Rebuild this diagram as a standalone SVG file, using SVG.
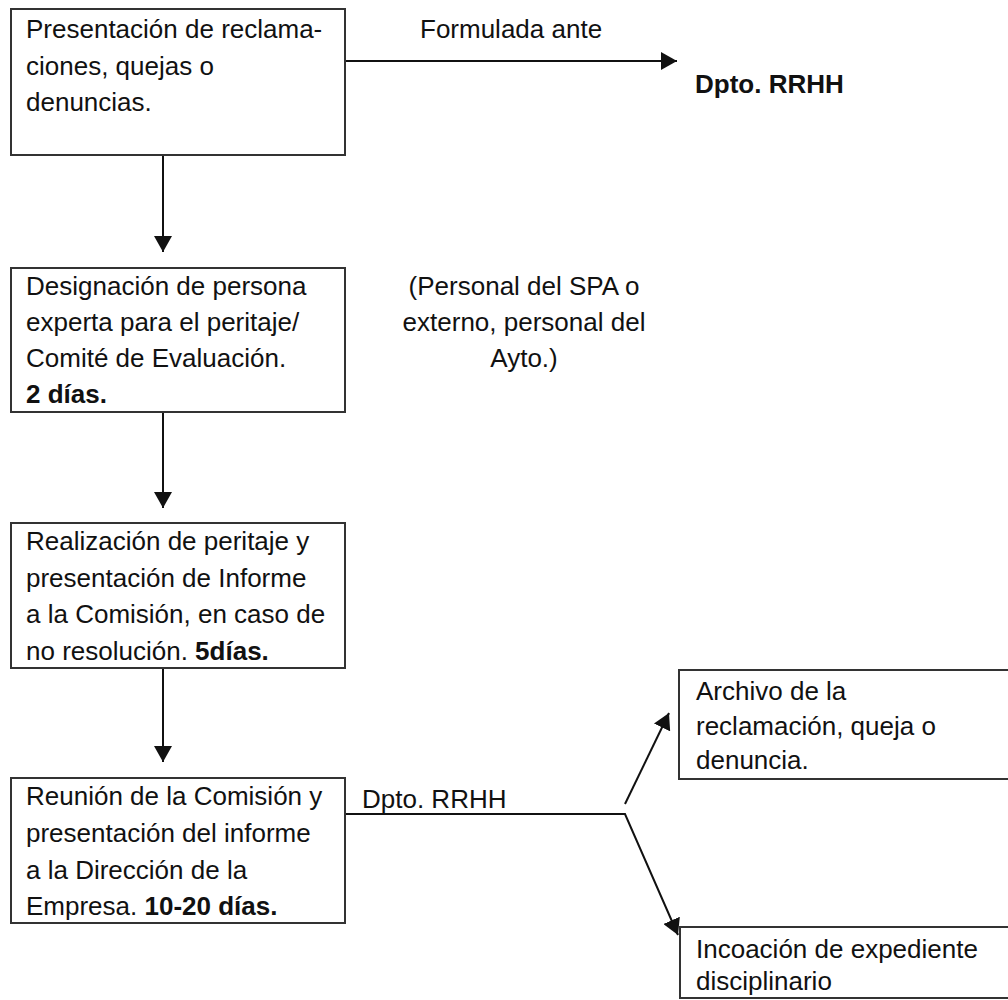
<svg xmlns="http://www.w3.org/2000/svg" width="1008" height="1000" viewBox="0 0 1008 1000">
<defs>
<style>
.box{fill:#fff;stroke:#333;stroke-width:2}
.t{font-family:"Liberation Sans",Arial,sans-serif;font-size:26px;fill:#111}
.b{font-weight:bold}
.c{fill:none;stroke:#111;stroke-width:2}
</style>
<marker id="ah" viewBox="0 0 16 18" refX="16" refY="9" markerWidth="16" markerHeight="18" markerUnits="userSpaceOnUse" orient="auto">
<path d="M0,0 L16,9 L0,18 Z" fill="#111"/>
</marker>
</defs>
<rect width="1008" height="1000" fill="#fff"/>
<g id="connectors">
<line class="c" x1="345" y1="61" x2="677" y2="61" marker-end="url(#ah)"/>
<line class="c" x1="163" y1="155" x2="163" y2="252" marker-end="url(#ah)"/>
<line class="c" x1="163" y1="412" x2="163" y2="508" marker-end="url(#ah)"/>
<line class="c" x1="163" y1="668" x2="163" y2="762" marker-end="url(#ah)"/>
<polyline class="c" points="345,814 625,814 678,935" marker-end="url(#ah)"/>
<line class="c" x1="625" y1="804" x2="669" y2="713" marker-end="url(#ah)"/>
<text class="t" x="420" y="38">Formulada ante</text>
<text class="t" x="362" y="808">Dpto. RRHH</text>
</g>
<g id="n1">
<rect class="box" x="11" y="9" width="334" height="146"/>
<text class="t" x="26" y="38">Presentación de reclama-</text>
<text class="t" x="26" y="75">ciones, quejas o</text>
<text class="t" x="26" y="111">denuncias.</text>
</g>
<g id="n-rrhh">
<text class="t b" x="695" y="93">Dpto. RRHH</text>
</g>
<g id="n2">
<rect class="box" x="11" y="268" width="334" height="144"/>
<text class="t" x="26" y="295">Designación de persona</text>
<text class="t" x="26" y="331">experta para el peritaje/</text>
<text class="t" x="26" y="367">Comité de Evaluación.</text>
<text class="t b" x="26" y="403">2 días.</text>
</g>
<g id="n-note">
<text class="t" x="524" y="295" text-anchor="middle">(Personal del SPA o</text>
<text class="t" x="524" y="331" text-anchor="middle">externo, personal del</text>
<text class="t" x="524" y="367" text-anchor="middle">Ayto.)</text>
</g>
<g id="n3">
<rect class="box" x="11" y="523" width="334" height="145"/>
<text class="t" x="26" y="550">Realización de peritaje y</text>
<text class="t" x="26" y="587">presentación de Informe</text>
<text class="t" x="26" y="623">a la Comisión, en caso de</text>
<text class="t" x="26" y="660">no resolución. <tspan class="b">5días.</tspan></text>
</g>
<g id="n4">
<rect class="box" x="11" y="778" width="334" height="145"/>
<text class="t" x="26" y="805">Reunión de la Comisión y</text>
<text class="t" x="26" y="842">presentación del informe</text>
<text class="t" x="26" y="879">a la Dirección de la</text>
<text class="t" x="26" y="915">Empresa. <tspan class="b">10-20 días.</tspan></text>
</g>
<g id="n5">
<rect class="box" x="679" y="670" width="340" height="109"/>
<text class="t" x="696" y="700">Archivo de la</text>
<text class="t" x="696" y="735">reclamación, queja o</text>
<text class="t" x="696" y="769">denuncia.</text>
</g>
<g id="n6">
<rect class="box" x="680" y="927" width="340" height="71"/>
<text class="t" x="696" y="958">Incoación de expediente</text>
<text class="t" x="696" y="990">disciplinario</text>
</g>
</svg>
